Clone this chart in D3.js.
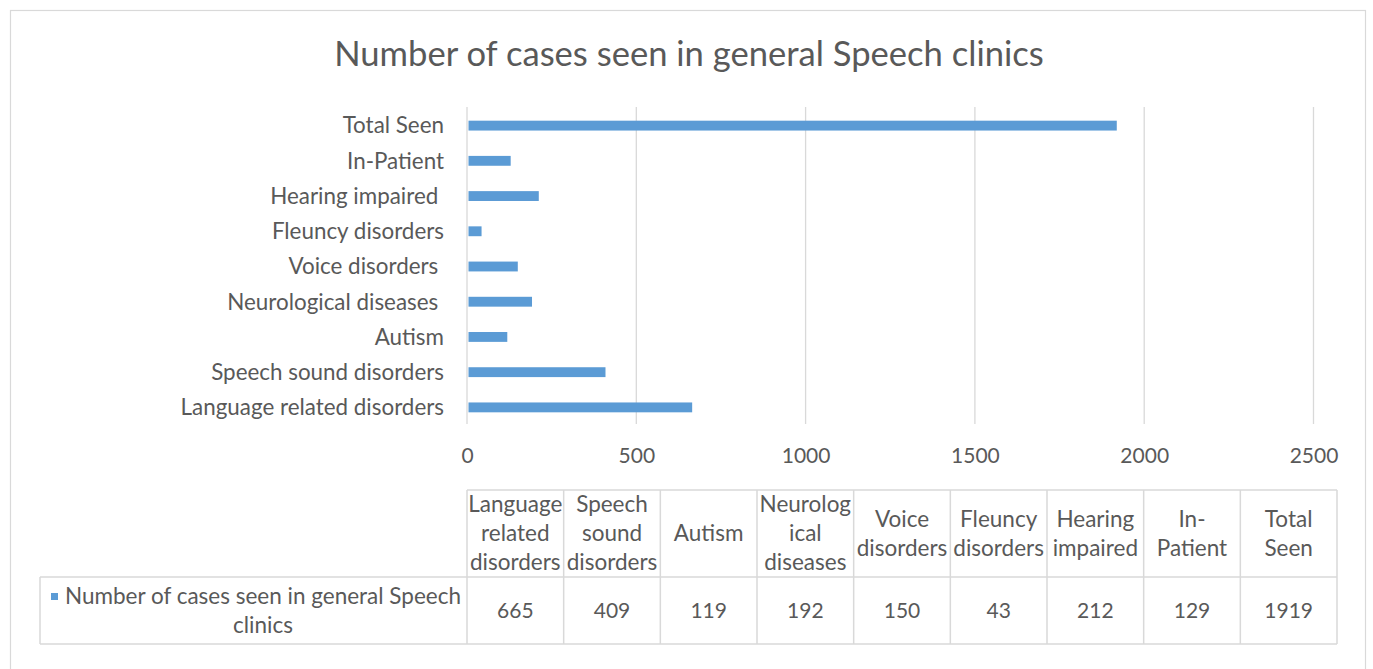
<!DOCTYPE html>
<html><head><meta charset="utf-8">
<script src="https://cdn.jsdelivr.net/npm/d3@7"></script>
<style>
body{margin:0;background:#fff;}
svg text{font-family:Lato,"Liberation Sans",sans-serif;fill:#595959;white-space:pre;}
</style></head>
<body><svg id="c" width="1373" height="669"></svg>
<script>
const title = "Number of cases seen in general Speech clinics";
const seriesName = ["Number of cases seen in general Speech", "clinics"];
const categories = ["Language related disorders","Speech sound disorders","Autism","Neurological diseases ","Voice disorders ","Fleuncy disorders","Hearing impaired ","In-Patient","Total Seen"];
const tableHeaders = [["Language","related","disorders"],["Speech","sound","disorders"],["Autism"],["Neurolog","ical","diseases"],["Voice","disorders"],["Fleuncy","disorders"],["Hearing","impaired"],["In-","Patient"],["Total","Seen"]];
const values = [665,409,119,192,150,43,212,129,1919];
const xTicks = [0,500,1000,1500,2000,2500];

const svg = d3.select("#c");
const barColor = "#5B9BD5", gridColor = "#D9D9D9";

svg.append("rect").attr("x",10.5).attr("y",10.5).attr("width",1355).attr("height",700)
  .attr("fill","#fff").attr("stroke","#D9D9D9").attr("stroke-width",1.2);

svg.append("text").attr("x",689).attr("y",66).attr("text-anchor","middle")
  .style("font-size","34.6px").text(title);

const x = d3.scaleLinear().domain([0,2500]).range([467,1313.5]);
const y = d3.scaleBand().domain(categories.slice().reverse()).range([108,425]).paddingInner(0.72).paddingOuter(0.36);

// gridlines
svg.append("g").selectAll("line").data(xTicks).join("line")
  .attr("x1",d=>x(d)).attr("x2",d=>x(d)).attr("y1",107).attr("y2",424)
  .attr("stroke",gridColor).attr("stroke-width",1.3);

// axis labels
const xAxis = d3.axisBottom(x).tickValues(xTicks).tickSize(0).tickPadding(0).tickFormat(d3.format("d"));
const gx = svg.append("g").attr("transform","translate(0,448)").call(xAxis);
gx.select(".domain").remove();
gx.selectAll("text").style("font-size","21px").attr("dy","0.72em").attr("y",0).style("font-family","Lato");

const yAxis = d3.axisLeft(y).tickSize(0).tickPadding(0);
const gy = svg.append("g").attr("transform","translate(444,0)").call(yAxis);
gy.select(".domain").remove();
gy.selectAll("text").style("font-size","22.4px").style("font-family","Lato").attr("dy","0.35em");

// bars
svg.append("g").selectAll("rect").data(categories).join("rect")
  .attr("x",x(0)+1.5).attr("y",d=>y(d)).attr("height",y.bandwidth())
  .attr("width",(d,i)=>x(values[i])-x(0)-1.5).attr("fill",barColor);

// data table
const t0 = 490, t1 = 577, t2 = 644, cx0 = 467, cx1 = 1337, legX = 40;
const col = d3.scaleBand().domain(categories).range([cx0,cx1]);
const tg = svg.append("g");
const fs = 22.5, lh = 29, vfs = 21;

categories.forEach((c,i)=>{
  const cx = col(c) + col.bandwidth()/2;
  const lines = tableHeaders[i];
  const mid = (t0+t1)/2;
  const txt = tg.append("text").attr("text-anchor","middle").style("font-size",fs+"px");
  lines.forEach((ln,j)=>{
    txt.append("tspan").attr("x",cx).attr("y",mid + (j-(lines.length-1)/2)*lh).attr("dy","0.35em").text(ln);
  });
  tg.append("text").attr("x",cx).attr("y",(t1+t2)/2).attr("dy","0.35em")
    .attr("text-anchor","middle").style("font-size",vfs+"px").text(values[i]);
});

// table lines
const bc = "#D9D9D9";
const hl = [[cx0,cx1,t0],[legX,cx1,t1],[legX,cx1,t2]];
tg.selectAll("line.h").data(hl).join("line").attr("class","h")
  .attr("x1",d=>d[0]).attr("x2",d=>d[1]).attr("y1",d=>d[2]).attr("y2",d=>d[2])
  .attr("stroke",bc).attr("stroke-width",1.5);
const vx = categories.map(c=>col(c)).concat([cx1]);
tg.selectAll("line.v").data(vx).join("line").attr("class","v")
  .attr("x1",d=>d).attr("x2",d=>d).attr("y1",t0).attr("y2",t2)
  .attr("stroke",bc).attr("stroke-width",1.5);
tg.append("line").attr("x1",legX).attr("x2",legX).attr("y1",t1).attr("y2",t2).attr("stroke",bc).attr("stroke-width",1.5);

// legend
tg.append("rect").attr("x",51).attr("y",593).attr("width",7).attr("height",7).attr("fill",barColor);
const lt = tg.append("text").attr("text-anchor","middle").style("font-size",fs+"px");
seriesName.forEach((ln,j)=>{
  lt.append("tspan").attr("x",263).attr("y",(t1+t2)/2 + (j-(seriesName.length-1)/2)*lh).attr("dy","0.35em").text(ln);
});
</script></body></html>
